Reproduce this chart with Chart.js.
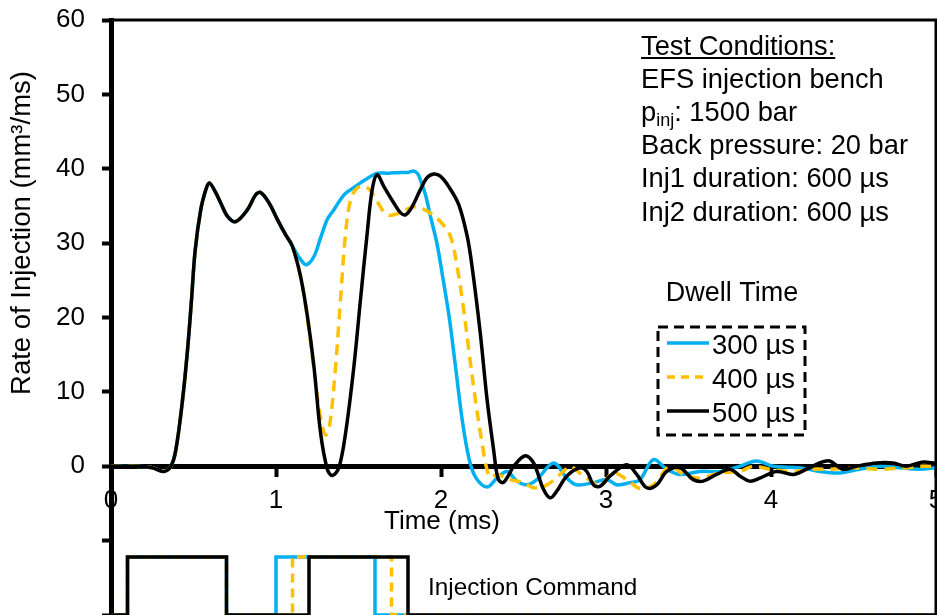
<!DOCTYPE html>
<html>
<head>
<meta charset="utf-8">
<script src="https://cdn.jsdelivr.net/npm/chart.js@4.4.1/dist/chart.umd.min.js"></script>
<style>
  html, body { margin: 0; padding: 0; background: #fff; overflow: hidden; }
  #chart { display: block; }
</style>
</head>
<body>
<canvas id="chart" width="937" height="615"></canvas>
<script>
// Rate of injection for three dwell times + injection command traces
var seriesNames = ['500 µs', '400 µs', '300 µs'];
var seriesColors = ['#000000', '#FFC000', '#00B0F0'];

var time500 = [0, 0.15, 0.25, 0.32, 0.363, 0.393, 0.434, 0.464, 0.488, 0.51, 0.544, 0.575, 0.595, 0.63, 0.665, 0.706, 0.756, 0.827, 0.877, 0.907, 0.958, 1.008, 1.059, 1.099, 1.149, 1.19, 1.23, 1.27, 1.311, 1.341, 1.381, 1.422, 1.472, 1.512, 1.553, 1.583, 1.613, 1.654, 1.714, 1.754, 1.785, 1.825, 1.875, 1.916, 1.956, 1.996, 2.047, 2.107, 2.158, 2.188, 2.238, 2.279, 2.319, 2.345, 2.375, 2.41, 2.44, 2.511, 2.561, 2.621, 2.662, 2.70, 2.763, 2.843, 2.884, 2.924, 2.964, 3.025, 3.126, 3.186, 3.247, 3.307, 3.368, 3.448, 3.529, 3.589, 3.67, 3.751, 3.811, 3.872, 3.932, 4.033, 4.134, 4.215, 4.295, 4.356, 4.436, 4.517, 4.638, 4.739, 4.82, 4.914, 5.0];
var rate500 = [0, 0, -0.2, -0.7, 0, 2.2, 9.0, 15.7, 22.4, 29.0, 34.5, 37.2, 38.1, 37.0, 35.4, 33.6, 32.9, 34.5, 36.5, 36.8, 35.4, 33.2, 31.1, 29.6, 25.5, 20.2, 13.4, 4.5, -0.4, -1.25, -0.2, 4.5, 13.4, 22.4, 31.4, 37.2, 39.2, 37.6, 35.4, 34.1, 33.8, 34.9, 37.2, 38.8, 39.3, 39.0, 37.6, 35.2, 31.0, 26.9, 17.9, 9.0, 2.2, -1.6, -2.2, -1.2, 0, 1.4, 0.45, -3.1, -4.25, -3.4, -1.3, -0.2, -0.7, -2.5, -2.7, -1.3, 0.2, -1.1, -2.9, -2.5, -0.7, -0.2, -1.8, -2.0, -1.1, -0.4, -1.3, -2.0, -1.6, -0.7, -1.1, -0.4, 0.45, 0.7, -0.4, 0, 0.45, 0.45, 0, 0.55, 0.4];

var time400 = [0, 0.15, 0.25, 0.32, 0.363, 0.393, 0.434, 0.464, 0.488, 0.51, 0.544, 0.575, 0.595, 0.63, 0.665, 0.706, 0.756, 0.827, 0.877, 0.907, 0.958, 1.008, 1.059, 1.099, 1.149, 1.19, 1.23, 1.27, 1.30, 1.325, 1.361, 1.391, 1.422, 1.452, 1.492, 1.543, 1.58, 1.613, 1.674, 1.754, 1.835, 1.916, 1.996, 2.057, 2.097, 2.137, 2.168, 2.208, 2.249, 2.279, 2.30, 2.339, 2.42, 2.50, 2.561, 2.642, 2.742, 2.783, 2.863, 2.964, 3.045, 3.126, 3.206, 3.287, 3.388, 3.468, 3.569, 3.69, 3.811, 3.892, 3.993, 4.134, 4.255, 4.356, 4.5, 4.66, 4.82, 4.91, 5.0];
var rate400 = [0, 0, -0.2, -0.7, 0, 2.2, 9.0, 15.7, 22.4, 29.0, 34.5, 37.2, 38.1, 37.0, 35.4, 33.6, 32.9, 34.5, 36.5, 36.8, 35.4, 33.2, 31.1, 29.6, 25.5, 20.0, 13.0, 6.5, 4.2, 5.5, 13.4, 22.4, 31.4, 35.8, 37.4, 37.6, 36.8, 35.6, 33.8, 34.1, 34.9, 34.3, 32.9, 30.9, 26.9, 21.1, 15.7, 9.0, 3.1, -0.5, -1.5, -1.1, -1.8, -2.2, -2.9, -2.5, -0.7, 0, -1.3, -2.5, -0.9, -1.8, -3.0, -2.5, 0, -1.1, -1.6, -0.9, -0.7, 0, -0.4, -0.7, -0.4, -0.4, -0.2, -0.4, -0.2, 0, 0];

var time300 = [0, 0.15, 0.25, 0.32, 0.363, 0.393, 0.434, 0.464, 0.488, 0.51, 0.544, 0.575, 0.595, 0.63, 0.665, 0.706, 0.756, 0.827, 0.877, 0.907, 0.958, 1.008, 1.059, 1.099, 1.149, 1.184, 1.23, 1.27, 1.311, 1.351, 1.412, 1.46, 1.512, 1.56, 1.613, 1.68, 1.754, 1.8, 1.835, 1.86, 1.875, 1.906, 1.936, 1.975, 2.01, 2.05, 2.09, 2.13, 2.17, 2.21, 2.279, 2.339, 2.40, 2.46, 2.52, 2.581, 2.682, 2.763, 2.823, 2.924, 3.005, 3.065, 3.146, 3.206, 3.287, 3.368, 3.448, 3.569, 3.69, 3.811, 3.912, 4.013, 4.174, 4.295, 4.416, 4.537, 4.66, 4.779, 4.9, 5.0];
var rate300 = [0, 0, -0.2, -0.7, 0, 2.2, 9.0, 15.7, 22.4, 29.0, 34.5, 37.2, 38.1, 37.0, 35.4, 33.6, 32.9, 34.5, 36.5, 36.8, 35.4, 33.2, 31.1, 29.6, 27.8, 27.1, 28.2, 30.7, 33.2, 34.5, 36.5, 37.3, 38.1, 38.8, 39.4, 39.4, 39.5, 39.5, 39.7, 39.3, 38.5, 36.5, 33.6, 30.0, 25.5, 20.0, 13.0, 6.0, 1.0, -1.5, -2.8, -1.6, -0.7, -2.0, -2.5, -1.8, 0.45, -1.6, -2.5, -2.2, -1.8, -2.5, -2.2, -1.8, 0.9, -0.4, -1.1, -0.7, -0.7, 0, 0.7, 0, -0.2, -0.7, -0.9, -0.4, 0, -0.2, -0.4, -0.2];

// injection command (plotted in the lower, unlabelled part of the axis)
var cmdTime500 = [0, 0.1, 0.1, 0.7, 0.7, 1.2, 1.2, 1.8, 1.8, 5];
var cmdTime400 = [0, 0.1, 0.1, 0.7, 0.7, 1.1, 1.1, 1.7, 1.7, 5];
var cmdTime300 = [0, 0.1, 0.1, 0.7, 0.7, 1.0, 1.0, 1.6, 1.6, 5];
var cmdLevel = [-20, -20, -12.2, -12.2, -20, -20, -12.2, -12.2, -20, -20];

var xTicks = [0, 1, 2, 3, 4, 5];
var yTitle = 'Rate of Injection (mm³/ms)';
var xTitle = 'Time (ms)';
var legendTitle = 'Dwell Time';
var cmdLabel = 'Injection Command';
var condTitle = 'Test Conditions:';
var condLines = ['EFS injection bench', 'p_inj: 1500 bar', 'Back pressure: 20 bar', 'Inj1 duration: 600 µs', 'Inj2 duration: 600 µs'];

var FONT_FAMILY = "'Liberation Sans', Arial, sans-serif";

function pts(t, v) {
    return t.map(function(x, i) { return { x: x, y: v[i] }; });
}

function curve(i, t, v) {
    return {
        label: seriesNames[i],
        data: pts(t, v),
        borderColor: seriesColors[i],
        borderWidth: 3.5,
        borderDash: i === 1 ? [11, 7] : [],
        pointRadius: 0,
        tension: 0.35,
        fill: false
    };
}

function command(i, t) {
    return {
        label: seriesNames[i] + ' cmd',
        data: pts(t, cmdLevel),
        borderColor: seriesColors[i],
        borderWidth: 3.5,
        borderDash: i === 1 ? [9, 6] : [],
        pointRadius: 0,
        tension: 0,
        fill: false
    };
}

var annotations = {
    id: 'annotations',
    afterDraw: function(chart) {
        var ctx = chart.ctx, a = chart.chartArea;
        ctx.save();
        // top and right frame
        ctx.strokeStyle = '#000';
        ctx.lineWidth = 3;
        ctx.beginPath();
        ctx.moveTo(a.left, a.top);
        ctx.lineTo(a.right, a.top);
        ctx.lineTo(a.right, a.bottom);
        ctx.stroke();

        ctx.fillStyle = '#000';
        ctx.textBaseline = 'middle';

        // axis titles
        ctx.save();
        ctx.font = '27.5px ' + FONT_FAMILY;
        ctx.translate(22, 233);
        ctx.rotate(-Math.PI / 2);
        ctx.textAlign = 'center';
        ctx.fillText(yTitle, 0, 0);
        ctx.restore();
        ctx.font = '26px ' + FONT_FAMILY;
        ctx.textAlign = 'center';
        ctx.fillText(xTitle, 442, 522);

        // test conditions block
        ctx.font = '27.3px ' + FONT_FAMILY;
        ctx.textAlign = 'left';
        var tx = 641;
        ctx.fillText(condTitle, tx, 47);
        var w = ctx.measureText(condTitle).width;
        ctx.fillRect(tx, 57, w, 2);
        condLines.forEach(function(line, k) {
            var y = 80 + k * 33.3;
            if (line.indexOf('_') >= 0) {
                var parts = line.split(':');
                var base = parts[0].split('_');
                ctx.fillText(base[0], tx, y);
                var x = tx + ctx.measureText(base[0]).width;
                ctx.font = '18px ' + FONT_FAMILY;
                ctx.fillText(base[1], x, y + 8);
                x += ctx.measureText(base[1]).width;
                ctx.font = '27.3px ' + FONT_FAMILY;
                ctx.fillText(':' + parts[1], x, y);
            } else {
                ctx.fillText(line, tx, y);
            }
        });

        // dwell time legend
        ctx.font = '27px ' + FONT_FAMILY;
        ctx.textAlign = 'center';
        ctx.fillText(legendTitle, 732, 294);
        ctx.setLineDash([10, 6]);
        ctx.lineWidth = 3;
        ctx.strokeRect(658, 327, 147, 108);
        ctx.font = '27.5px ' + FONT_FAMILY;
        var order = [2, 1, 0];
        order.forEach(function(i, r) {
            var y = 346 + r * 34;
            ctx.strokeStyle = seriesColors[i];
            ctx.lineWidth = 3.5;
            ctx.setLineDash(i === 1 ? [8, 6] : []);
            ctx.beginPath();
            ctx.moveTo(667, y - 3);
            ctx.lineTo(709, y - 3);
            ctx.stroke();
            ctx.textAlign = 'left';
            ctx.fillText(seriesNames[i], 712, y);
        });
        ctx.setLineDash([]);

        ctx.font = '24.3px ' + FONT_FAMILY;
        ctx.textAlign = 'left';
        ctx.fillText(cmdLabel, 428, 588);
        ctx.restore();
    }
};

Chart.defaults.font.family = FONT_FAMILY;
Chart.defaults.font.size = 26;
Chart.defaults.color = '#000';

new Chart(document.getElementById('chart'), {
    type: 'line',
    data: {
        datasets: [
            curve(0, time500, rate500),
            curve(1, time400, rate400),
            curve(2, time300, rate300),
            command(0, cmdTime500),
            command(1, cmdTime400),
            command(2, cmdTime300)
        ]
    },
    options: {
        responsive: false,
        animation: false,
        layout: { autoPadding: false, padding: { top: 20, right: 1, bottom: 0, left: 0 } },
        plugins: { legend: { display: false }, tooltip: { enabled: false } },
        scales: {
            x: {
                type: 'linear',
                min: 0,
                max: 5,
                position: { y: 0 },
                afterBuildTicks: function(s) { s.ticks = xTicks.map(function(v) { return { value: v }; }); },
                ticks: { color: '#000', padding: 11, maxRotation: 0, autoSkip: false, font: { size: 26 } },
                grid: { drawOnChartArea: false, drawTicks: true, tickLength: 8, tickWidth: 4, tickColor: '#000' },
                border: { display: true, color: '#000', width: 5 },
                afterFit: function(s) { s.paddingLeft = 0; s.paddingRight = 0; }
            },
            y: {
                type: 'linear',
                min: -20,
                max: 60,
                position: 'left',
                ticks: {
                    stepSize: 10,
                    color: '#000',
                    padding: 17,
                    font: { size: 26 },
                    callback: function(v) { return v >= 0 ? v : ''; }
                },
                grid: { drawOnChartArea: false, drawTicks: true, tickLength: 9, tickWidth: 4, tickColor: '#000' },
                border: { display: true, color: '#000', width: 5 },
                afterFit: function(s) { s.width = 111; s.paddingTop = 0; s.paddingBottom = 0; }
            }
        }
    },
    plugins: [annotations]
});
</script>
</body>
</html>
